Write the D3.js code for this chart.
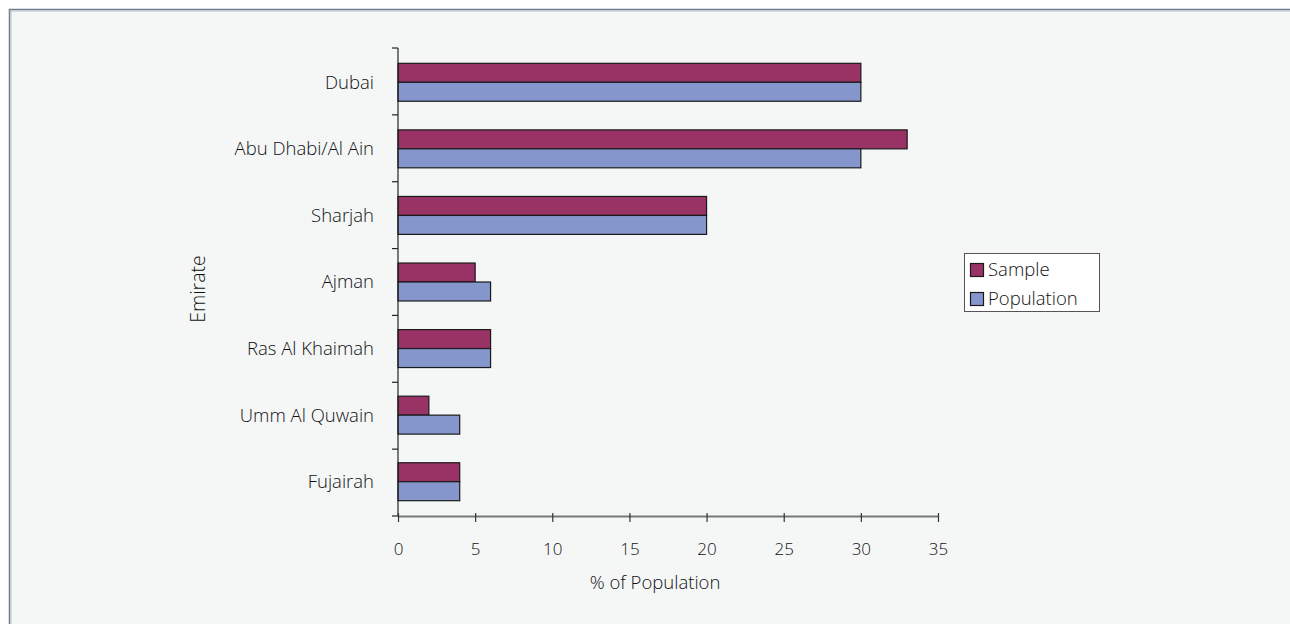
<!DOCTYPE html>
<html>
<head>
<meta charset="utf-8">
<script src="https://cdn.jsdelivr.net/npm/d3@7"></script>
<style>
  html, body { margin: 0; padding: 0; background: #ffffff; }
  svg { display: block; }
  text { font-family: "Open Sans", "Noto Sans", sans-serif; font-weight: 300; fill: #111; }
</style>
</head>
<body>
<svg id="chart" width="1290" height="624"></svg>
<script>
// Distribution of respondents by emirate, compared with the population share
const emirates = ["Dubai", "Abu Dhabi/Al Ain", "Sharjah", "Ajman", "Ras Al Khaimah", "Umm Al Quwain", "Fujairah"];
const sampleValues = [30, 33, 20, 5, 6, 2, 4];
const populationValues = [30, 30, 20, 6, 6, 4, 4];
const seriesNames = ["Sample", "Population"];
const xTicks = [0, 5, 10, 15, 20, 25, 30, 35];

const colors = { Sample: "#993366", Population: "#8496cb" };

const svg = d3.select("#chart");

// panel background with a frame on the top and left edges
svg.append("rect").attr("x", 9.5).attr("y", 9.5).attr("width", 1300).attr("height", 640)
  .attr("fill", "#f5f7f7").attr("stroke", "none");
svg.append("path").attr("d", "M9.5,640 V9.5 H1300")
  .attr("fill", "none").attr("stroke", "#6d7d8c").attr("stroke-width", 1.5);
svg.append("path").attr("d", "M11,640 V11 H1300")
  .attr("fill", "none").attr("stroke", "#b4c0cc").attr("stroke-width", 1);

const plotLeft = 398, plotRight = 938, plotTop = 48, plotBottom = 516;

const x = d3.scaleLinear().domain([0, 35]).range([plotLeft, plotRight]);
const y = d3.scaleBand().domain(emirates).range([plotTop, plotBottom]).paddingInner(0.43).paddingOuter(0.23);
const ySeries = d3.scaleBand().domain(seriesNames).range([0, y.bandwidth()]);

const rows = emirates.map((name, i) => ({
  name,
  values: [
    { key: "Sample", value: sampleValues[i] },
    { key: "Population", value: populationValues[i] }
  ]
}));

// bars
const groups = svg.append("g").selectAll("g").data(rows).join("g")
  .attr("transform", d => `translate(0,${y(d.name)})`);
groups.selectAll("rect").data(d => d.values).join("rect")
  .attr("x", x(0))
  .attr("y", d => ySeries(d.key))
  .attr("width", d => x(d.value) - x(0))
  .attr("height", ySeries.bandwidth())
  .attr("fill", d => colors[d.key])
  .attr("stroke", "#1a1a1a")
  .attr("stroke-width", 1.2);

// category axis: ticks sit between the bands
const yBoundaries = d3.range(emirates.length + 1).map(i => plotTop + i * (plotBottom - plotTop) / emirates.length);
const yAxis = svg.append("g");
yAxis.append("line").attr("x1", plotLeft).attr("x2", plotLeft).attr("y1", plotTop).attr("y2", plotBottom)
  .attr("stroke", "#222").attr("stroke-width", 1.2);
yAxis.selectAll("line.tick").data(yBoundaries).join("line").attr("class", "tick")
  .attr("x1", plotLeft - 6).attr("x2", plotLeft).attr("y1", d => d).attr("y2", d => d)
  .attr("stroke", "#222").attr("stroke-width", 1.2);
yAxis.selectAll("text").data(emirates).join("text")
  .attr("x", 374).attr("y", d => y(d) + y.bandwidth() / 2)
  .attr("dy", "0.35em").attr("text-anchor", "end")
  .style("font-size", "18.5px").text(d => d);

// value axis
const xAxis = svg.append("g").attr("transform", `translate(0,${plotBottom})`)
  .call(d3.axisBottom(x).tickValues(xTicks).tickSize(6).tickPadding(21).tickSizeOuter(0));
xAxis.select(".domain").attr("stroke", "#777").attr("stroke-width", 2);
xAxis.selectAll(".tick line").attr("stroke", "#333").attr("stroke-width", 1.2).attr("y1", -3);
xAxis.selectAll(".tick text").style("font-size", "17px").style("font-family", null).attr("fill", "#111");

// axis titles
svg.append("text").attr("x", 655).attr("y", 589).attr("text-anchor", "middle")
  .style("font-size", "18.5px").text("% of Population");
svg.append("text").attr("transform", "translate(205,289) rotate(-90)").attr("text-anchor", "middle")
  .style("font-size", "19.5px").text("Emirate");

// legend
const legend = svg.append("g").attr("transform", "translate(964,253)");
legend.append("rect").attr("x", 0.5).attr("y", 0.5).attr("width", 135).attr("height", 58)
  .attr("fill", "#ffffff").attr("stroke", "#555").attr("stroke-width", 1);
seriesNames.forEach((name, i) => {
  legend.append("rect").attr("x", 6.5).attr("y", 10.5 + i * 29).attr("width", 13).attr("height", 13)
    .attr("fill", colors[name]).attr("stroke", "#1a1a1a").attr("stroke-width", 1.2);
  legend.append("text").attr("x", 24).attr("y", 17 + i * 29).attr("dy", "0.35em")
    .style("font-size", "18.5px").text(name);
});
</script>
</body>
</html>
